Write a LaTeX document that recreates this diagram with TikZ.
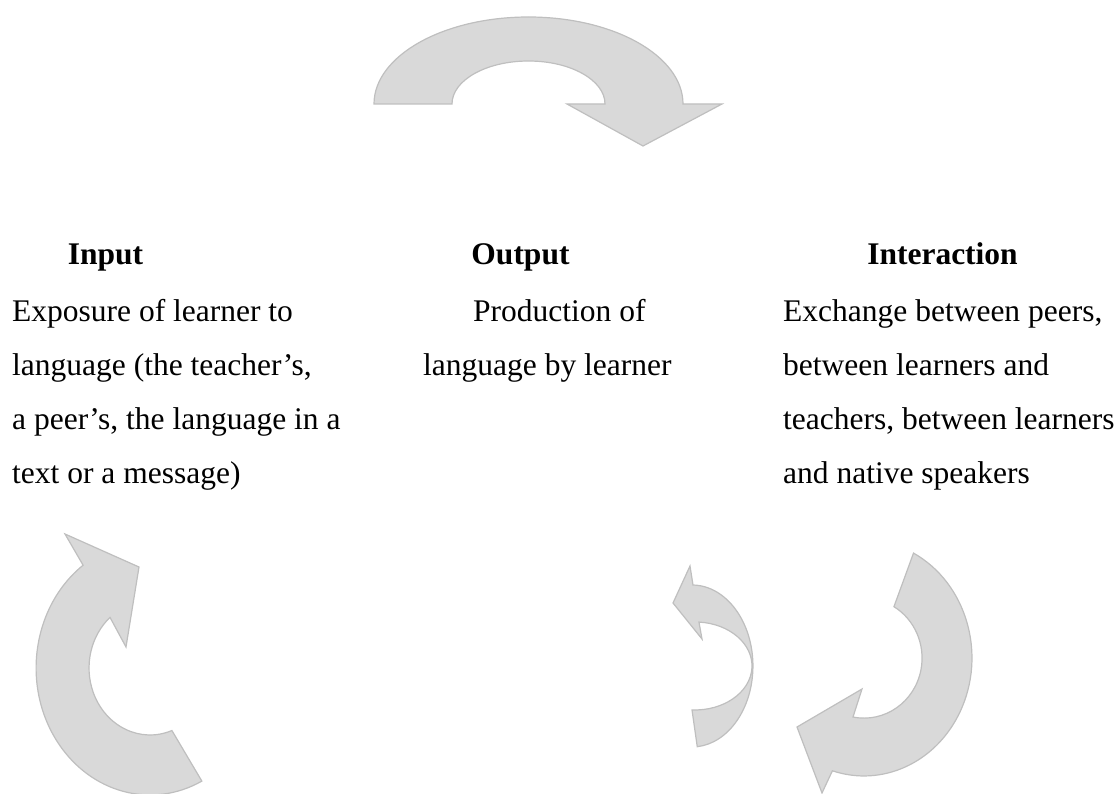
\documentclass[tikz,border=0pt]{standalone}
\usepackage{fontspec}
\setmainfont{Liberation Serif}
\definecolor{arrowfill}{HTML}{D9D9D9}
\definecolor{arrowline}{HTML}{BFBFBF}
\begin{document}
\begin{tikzpicture}[x=1pt,y=-1pt,
  arrowshape/.style={fill=arrowfill, draw=arrowline, line width=1.2pt, line join=miter},
  lbl/.style={inner sep=0pt, anchor=base west, font=\fontsize{31.5}{54}\selectfont},
  hd/.style={inner sep=0pt, anchor=base, font=\fontsize{31.5}{54}\selectfont\bfseries}]
\useasboundingbox (0,0) rectangle (1119,794);

% top arrow
\draw[arrowshape] (374,104) arc[start angle=180, end angle=360, x radius=154.5, y radius=87]
  -- (722,104) -- (643,146) -- (567,104) -- (605,104)
  arc[start angle=0, end angle=-180, x radius=76.5, y radius=43] -- cycle;

% bottom-left arrow
\draw[arrowshape] (83.1,565.2) arc[start angle=234, end angle=63, x radius=114, y radius=127]
  -- (171.9,730.5) arc[start angle=69, end angle=229, x radius=61, y radius=67]
  -- (126,647) -- (139,567) -- (65,534) -- cycle;

% middle small twisted arrow
\draw[arrowshape] (693,585) arc[start angle=-89, end angle=85, x radius=61, y radius=81]
  -- (692,709.9) arc[start angle=93, end angle=-86, x radius=57, y radius=44]
  -- (702,639) -- (673,603) -- (690,566) -- cycle;

% bottom-right arrow
\draw[arrowshape] (913.5,553.1) arc[start angle=-62.7, end angle=107, x radius=108, y radius=118]
  -- (822,793) -- (797,727) -- (862,689) -- (853,717)
  arc[start angle=101, end angle=-59, x radius=58, y radius=60] -- cycle;

% headings
\node[hd] (inH) at (105.5,265) {Input};
\node[hd] (outH) at (520.5,265) {Output};
\node[hd] (intH) at (942.5,265) {Interaction};

% input text
\node[lbl] (in1) at (12,321) {Exposure of learner to};
\node[lbl] (in2) at (12,375) {language (the teacher’s,};
\node[lbl] (in3) at (12,429) {a peer’s, the language in a};
\node[lbl] (in4) at (12,483) {text or a message)};

% output text
\node[lbl] (out1) at (473,321) {Production of};
\node[lbl] (out2) at (423,375) {language by learner};

% interaction text
\node[lbl] (int1) at (783,321) {Exchange between peers,};
\node[lbl] (int2) at (783,375) {between learners and};
\node[lbl] (int3) at (783,429) {teachers, between learners};
\node[lbl] (int4) at (783,483) {and native speakers};
\end{tikzpicture}
\end{document}
